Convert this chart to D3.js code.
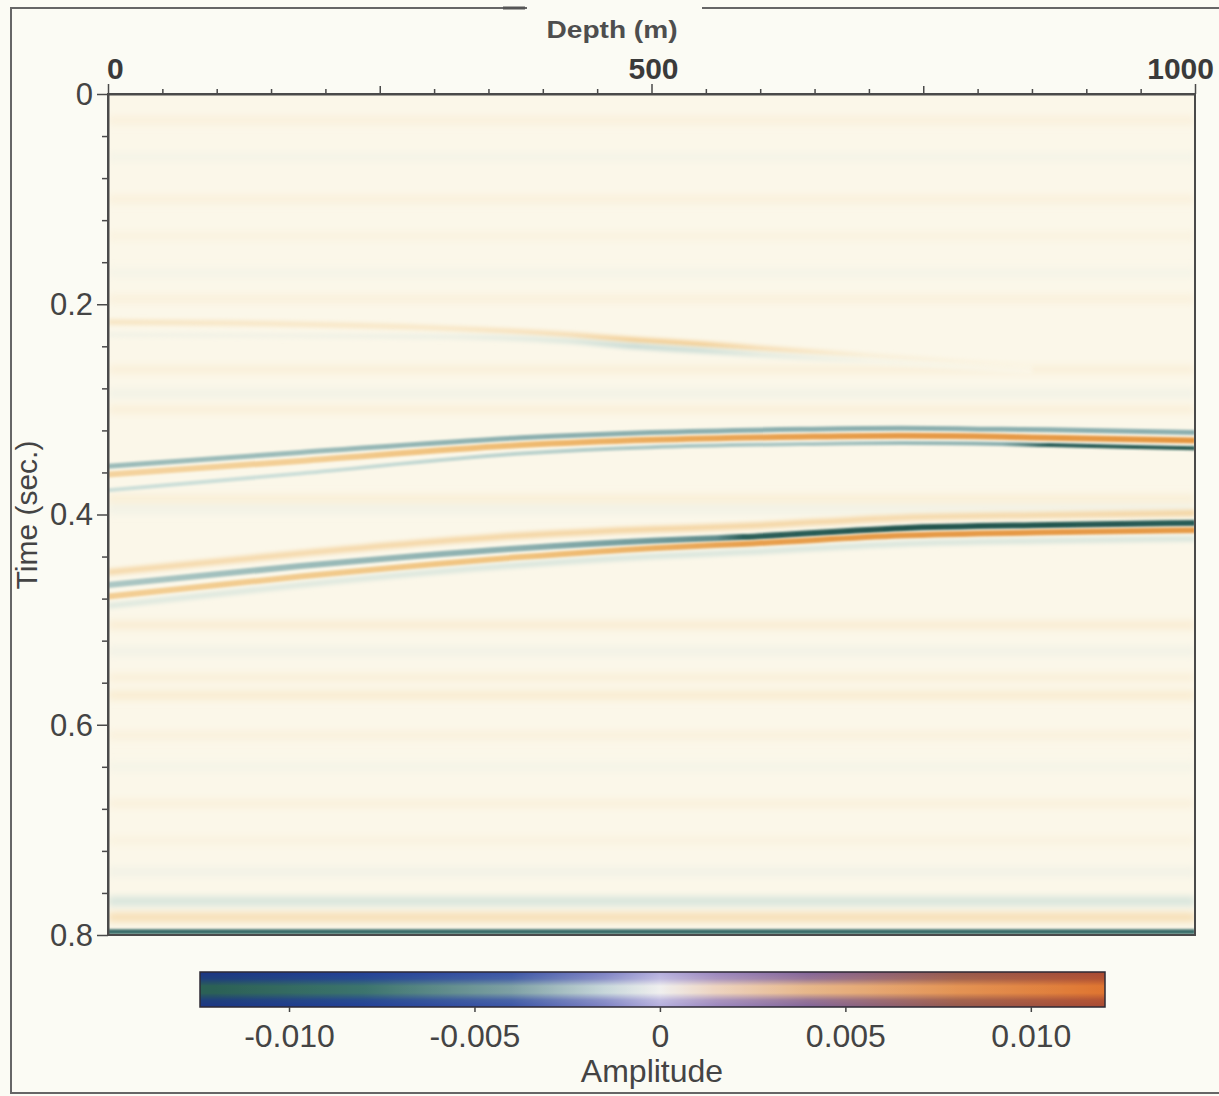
<!DOCTYPE html>
<html>
<head>
<meta charset="utf-8">
<script src="https://cdn.jsdelivr.net/npm/d3@7/dist/d3.min.js"></script>
<style>
  body { margin: 0; background: #fbfbf4; }
  svg { display: block; font-family: "Liberation Sans", Arial, sans-serif; }
</style>
</head>
<body>
<div id="chart"></div>
<script>
// axis labels
const depthLabels = [0, 500, 1000];
const timeLabels = [0, 0.2, 0.4, 0.6, 0.8];
const ampLabels = [-0.010, -0.005, 0, 0.005, 0.010];
const ampExtent = [-0.0124, 0.0120];

// faint flat bands in the section (time s, amplitude)
const bandTimes = [0.025, 0.06, 0.10, 0.135, 0.17, 0.195, 0.262, 0.285, 0.300, 0.385, 0.395, 0.505, 0.53, 0.555, 0.572, 0.61, 0.64, 0.675, 0.71, 0.74, 0.768, 0.783];
const bandAmps = [0.0004, -0.0002, 0.0004, 0.0003, -0.0002, 0.0004, 0.0005, -0.0003, 0.0005, 0.0006, -0.0003, 0.0007, -0.0003, 0.0005, 0.0008, 0.0004, -0.0002, 0.0004, 0.0003, -0.0003, -0.0012, 0.0018];

// weak shallow event
const topDepth = [0, 177, 315, 423, 484, 546, 601, 700, 850];
const topPosTime = [0.217, 0.219, 0.223, 0.229, 0.234, 0.238, 0.242, 0.249, 0.259];
const topPosAmp = [0.0014, 0.0012, 0.0012, 0.002, 0.0033, 0.0033, 0.002, 0.0006, 0.0001];
const topNegTime = [0.229, 0.230, 0.231, 0.235, 0.240, 0.244, 0.248, 0.254, 0.264];
const topNegAmp = [-0.0003, -0.0003, -0.0005, -0.001, -0.0018, -0.0016, -0.0008, -0.0002, 0];

// first strong reflection
const ev1Depth = [0, 177, 380, 500, 638, 730, 822, 866, 1000];
const ev1NegTime = [0.354, 0.341, 0.327, 0.322, 0.319, 0.318, 0.319, 0.3195, 0.322];
const ev1NegAmp = [-0.003, -0.003, -0.0035, -0.0035, -0.0035, -0.0035, -0.0035, -0.0035, -0.0035];
const ev1PosTime = [0.362, 0.349, 0.334, 0.329, 0.326, 0.325, 0.326, 0.327, 0.3295];
const ev1PosAmp = [0.0026, 0.003, 0.0045, 0.006, 0.007, 0.0075, 0.0075, 0.0075, 0.008];
const ev1TailTime = [0.377, 0.361, 0.342, 0.336, 0.333, 0.332, 0.333, 0.334, 0.337];
const ev1TailAmp = [-0.0015, -0.0015, -0.002, -0.0025, -0.0025, -0.003, -0.0035, -0.0095, -0.010];

// second strong reflection
const ev2Depth = [0, 177, 380, 500, 560, 584, 730, 866, 1000];
const ev2PreTime = [0.455, 0.437, 0.420, 0.414, 0.412, 0.411, 0.403, 0.4005, 0.3985];
const ev2PreAmp = [0.0022, 0.0022, 0.0025, 0.0025, 0.0025, 0.0025, 0.0022, 0.0022, 0.0025];
const ev2MainTime = [0.467, 0.449, 0.432, 0.425, 0.4225, 0.4215, 0.413, 0.410, 0.408];
const ev2MainAmp = [-0.0025, -0.003, -0.0035, -0.0045, -0.0055, -0.009, -0.0105, -0.0105, -0.0095];
const ev2PostTime = [0.478, 0.459, 0.4405, 0.432, 0.429, 0.428, 0.420, 0.417, 0.415];
const ev2PostAmp = [0.003, 0.0032, 0.0038, 0.0055, 0.0065, 0.007, 0.0075, 0.0075, 0.0075];
const ev2TailTime = [0.487, 0.467, 0.448, 0.440, 0.437, 0.436, 0.428, 0.425, 0.423];
const ev2TailAmp = [-0.001, -0.001, -0.0012, -0.0012, -0.0012, -0.0012, -0.0012, -0.0012, -0.0012];

// reflection at the bottom of the window
const bottomDepth = [0, 1000];
const bottomTime = [0.797, 0.797];
const bottomAmp = [-0.0075, -0.0075];

const W = 1219, H = 1096;
const plot = { left: 108, top: 94, right: 1195, bottom: 935 };

const x = d3.scaleLinear().domain([0, 1000]).range([plot.left, plot.right]);
const y = d3.scaleLinear().domain([0, 0.8]).range([plot.top, plot.bottom]);

const ampStops = [-0.012, -0.008, -0.004, -0.0015, 0, 0.0015, 0.004, 0.008, 0.012];
const color = d3.scaleLinear()
    .domain(ampStops)
    .range(['#1d4f45', '#2f6461', '#7aa3a4', '#cddfd9', '#fbf7e9', '#f7e2bc', '#f0c079', '#e5953f', '#dc7628'])
    .clamp(true);

// colour bar rendering: bright centre stripe and shaded rim
const barCentre = d3.scaleLinear()
    .domain(ampStops)
    .range(['#2e6650', '#3f7a68', '#86a9a4', '#cfe0dc', '#f6f6f0', '#f6dcc0', '#f2c088', '#ec9a55', '#e57a30'])
    .clamp(true);
const barRim = d3.scaleLinear()
    .domain(ampStops)
    .range(['#1c3686', '#23409a', '#3b54a8', '#7d80c4', '#b4aede', '#9a86c0', '#82649a', '#94584e', '#a84a34'])
    .clamp(true);

const svg = d3.select('#chart').append('svg')
    .attr('width', W)
    .attr('height', H);

const defs = svg.append('defs');
defs.append('clipPath').attr('id', 'plotclip')
    .append('rect')
    .attr('x', plot.left).attr('y', plot.top)
    .attr('width', plot.right - plot.left).attr('height', plot.bottom - plot.top);

function blur(id, sd) {
    defs.append('filter').attr('id', id)
        .attr('filterUnits', 'userSpaceOnUse').attr('x', 0).attr('y', 0).attr('width', W).attr('height', H)
        .append('feGaussianBlur').attr('stdDeviation', sd);
}
blur('haze', 3.5);
blur('soft', 2);
blur('sharp', 0.9);

// outer frame, broken where the axis title sits
svg.append('path')
    .attr('d', 'M527,8 H11 V1093 H1225 M702,8 H1225')
    .attr('fill', 'none').attr('stroke', '#666').attr('stroke-width', 2);
svg.append('line').attr('x1', 503).attr('x2', 525).attr('y1', 8).attr('y2', 8)
    .attr('stroke', '#555').attr('stroke-width', 3);

// section
const section = svg.append('g').attr('clip-path', 'url(#plotclip)');
section.append('rect')
    .attr('x', plot.left).attr('y', plot.top)
    .attr('width', plot.right - plot.left).attr('height', plot.bottom - plot.top)
    .attr('fill', color(0));

const line = d3.line()
    .x(d => x(d.depth))
    .y(d => y(d.time))
    .curve(d3.curveMonotoneX);

// flat background bands
const bands = bandTimes.map((t, i) => ({ t, a: bandAmps[i] }));
section.append('g').attr('filter', 'url(#haze)')
    .selectAll('path').data(bands).join('path')
    .attr('d', d => line([{ depth: 0, time: d.t }, { depth: 1000, time: d.t }]))
    .attr('fill', 'none')
    .attr('stroke', d => color(d.a))
    .attr('stroke-width', 9);

// reflection lobes
const lobes = [
    { id: 'topPos', depth: topDepth, time: topPosTime, amp: topPosAmp, w: 5, f: 'soft' },
    { id: 'topNeg', depth: topDepth, time: topNegTime, amp: topNegAmp, w: 5, f: 'soft' },
    { id: 'ev1Neg', depth: ev1Depth, time: ev1NegTime, amp: ev1NegAmp, w: 5, f: 'sharp' },
    { id: 'ev1Pos', depth: ev1Depth, time: ev1PosTime, amp: ev1PosAmp, w: 6, f: 'sharp' },
    { id: 'ev1Tail', depth: ev1Depth, time: ev1TailTime, amp: ev1TailAmp, w: 4, f: 'sharp' },
    { id: 'ev2Pre', depth: ev2Depth, time: ev2PreTime, amp: ev2PreAmp, w: 6, f: 'soft' },
    { id: 'ev2Main', depth: ev2Depth, time: ev2MainTime, amp: ev2MainAmp, w: 6, f: 'sharp' },
    { id: 'ev2Post', depth: ev2Depth, time: ev2PostTime, amp: ev2PostAmp, w: 6, f: 'sharp' },
    { id: 'ev2Tail', depth: ev2Depth, time: ev2TailTime, amp: ev2TailAmp, w: 5, f: 'soft' },
    { id: 'bottom', depth: bottomDepth, time: bottomTime, amp: bottomAmp, w: 5, f: 'sharp' }
];

lobes.forEach(l => {
    const grad = defs.append('linearGradient')
        .attr('id', 'g-' + l.id)
        .attr('gradientUnits', 'userSpaceOnUse')
        .attr('x1', x(0)).attr('x2', x(1000)).attr('y1', 0).attr('y2', 0);
    grad.selectAll('stop').data(l.depth).join('stop')
        .attr('offset', d => (x(d) - x(0)) / (x(1000) - x(0)))
        .attr('stop-color', (d, i) => color(l.amp[i]));
    const pts = l.depth.map((d, i) => ({ depth: d, time: l.time[i] }));
    section.append('path')
        .attr('d', line(pts))
        .attr('fill', 'none')
        .attr('stroke', `url(#g-${l.id})`)
        .attr('stroke-width', l.w)
        .attr('filter', `url(#${l.f})`);
});

// plot frame
svg.append('rect')
    .attr('x', plot.left).attr('y', plot.top)
    .attr('width', plot.right - plot.left).attr('height', plot.bottom - plot.top)
    .attr('fill', 'none').attr('stroke', '#4a4a4a').attr('stroke-width', 2);

// top (depth) axis
const xAxisG = svg.append('g')
    .attr('transform', `translate(0, ${plot.top})`)
    .call(d3.axisTop(x).tickValues(d3.range(0, 1001, 50)).tickFormat('').tickSizeOuter(0));
xAxisG.select('.domain').attr('stroke', '#4a4a4a').attr('stroke-width', 2);
xAxisG.selectAll('.tick line')
    .attr('stroke', '#4a4a4a').attr('stroke-width', 1.5)
    .attr('y2', d => depthLabels.includes(d) ? -10 : (d % 250 === 0 ? -8 : -5));

svg.append('g').selectAll('text').data(depthLabels).join('text')
    .attr('x', (d, i) => i === 0 ? x(d) - 1 : (i === depthLabels.length - 1 ? x(d) + 19 : x(d) + 2))
    .attr('y', 79)
    .attr('text-anchor', (d, i) => i === 0 ? 'start' : (i === depthLabels.length - 1 ? 'end' : 'middle'))
    .attr('font-size', 30).attr('font-weight', 'bold').attr('fill', '#3a3a3a')
    .text(d => d);

svg.append('text')
    .attr('x', 612).attr('y', 38)
    .attr('text-anchor', 'middle')
    .attr('font-size', 23).attr('font-weight', 'bold').attr('fill', '#4e4e4e')
    .attr('textLength', 131).attr('lengthAdjust', 'spacingAndGlyphs')
    .text('Depth (m)');

// left (time) axis
const yAxisG = svg.append('g')
    .attr('transform', `translate(${plot.left}, 0)`)
    .call(d3.axisLeft(y).tickValues(d3.range(0, 0.8001, 0.04)).tickFormat('').tickSizeOuter(0));
yAxisG.select('.domain').attr('stroke', '#4a4a4a').attr('stroke-width', 2);
yAxisG.selectAll('.tick line')
    .attr('stroke', '#4a4a4a').attr('stroke-width', 1.5)
    .attr('x2', (d, i) => i % 5 === 0 ? -11 : -6);

svg.append('g').selectAll('text').data(timeLabels).join('text')
    .attr('x', 93)
    .attr('y', d => y(d))
    .attr('dy', '0.35em')
    .attr('text-anchor', 'end')
    .attr('font-size', 31).attr('fill', '#444')
    .text(d => d);

svg.append('text')
    .attr('transform', 'translate(37, 515) rotate(-90)')
    .attr('text-anchor', 'middle')
    .attr('font-size', 30).attr('fill', '#444')
    .text('Time (sec.)');

// colour bar
const cb = { left: 200, right: 1105, top: 972, bottom: 1007 };
const cbX = d3.scaleLinear().domain(ampExtent).range([cb.left, cb.right]);
const cbStops = [ampExtent[0], ...ampStops.filter(v => v > ampExtent[0] && v < ampExtent[1]), ampExtent[1]];

function barGradient(id, scale) {
    defs.append('linearGradient')
        .attr('id', id)
        .attr('gradientUnits', 'userSpaceOnUse')
        .attr('x1', cb.left).attr('x2', cb.right).attr('y1', 0).attr('y2', 0)
        .selectAll('stop').data(cbStops).join('stop')
        .attr('offset', d => (cbX(d) - cb.left) / (cb.right - cb.left))
        .attr('stop-color', d => scale(d));
}
barGradient('cbrim', barRim);
barGradient('cbcentre', barCentre);

const fade = defs.append('linearGradient')
    .attr('id', 'cbfade')
    .attr('x1', 0).attr('x2', 0).attr('y1', 0).attr('y2', 1);
[[0, 0], [0.2, 0.2], [0.4, 0.9], [0.6, 0.9], [0.8, 0.2], [1, 0]].forEach(([o, a]) => {
    fade.append('stop').attr('offset', o).attr('stop-color', '#fff').attr('stop-opacity', a);
});
defs.append('mask').attr('id', 'cbmask')
    .attr('maskUnits', 'userSpaceOnUse')
    .attr('x', cb.left).attr('y', cb.top).attr('width', cb.right - cb.left).attr('height', cb.bottom - cb.top)
    .append('rect')
    .attr('x', cb.left).attr('y', cb.top)
    .attr('width', cb.right - cb.left).attr('height', cb.bottom - cb.top)
    .attr('fill', 'url(#cbfade)');

const barRect = g => g
    .attr('x', cb.left).attr('y', cb.top)
    .attr('width', cb.right - cb.left).attr('height', cb.bottom - cb.top);
svg.append('rect').call(barRect).attr('fill', 'url(#cbrim)');
svg.append('rect').call(barRect).attr('fill', 'url(#cbcentre)').attr('mask', 'url(#cbmask)');
svg.append('rect').call(barRect)
    .attr('fill', 'none').attr('stroke', '#2e2a35').attr('stroke-width', 1.5);

const cbAxisG = svg.append('g')
    .attr('transform', `translate(0, ${cb.bottom})`)
    .call(d3.axisBottom(cbX).tickValues(ampLabels).tickSize(5).tickSizeOuter(0)
        .tickFormat(d => d === 0 ? '0' : d.toFixed(3)));
cbAxisG.select('.domain').remove();
cbAxisG.selectAll('.tick line').attr('stroke', '#444').attr('stroke-width', 1.5);
cbAxisG.selectAll('.tick text')
    .attr('y', 40).attr('dy', 0)
    .attr('font-size', 32).attr('fill', '#444')
    .attr('font-family', '"Liberation Sans", Arial, sans-serif');

svg.append('text')
    .attr('x', 652).attr('y', 1082)
    .attr('text-anchor', 'middle')
    .attr('font-size', 32).attr('fill', '#444')
    .text('Amplitude');
</script>
</body>
</html>
